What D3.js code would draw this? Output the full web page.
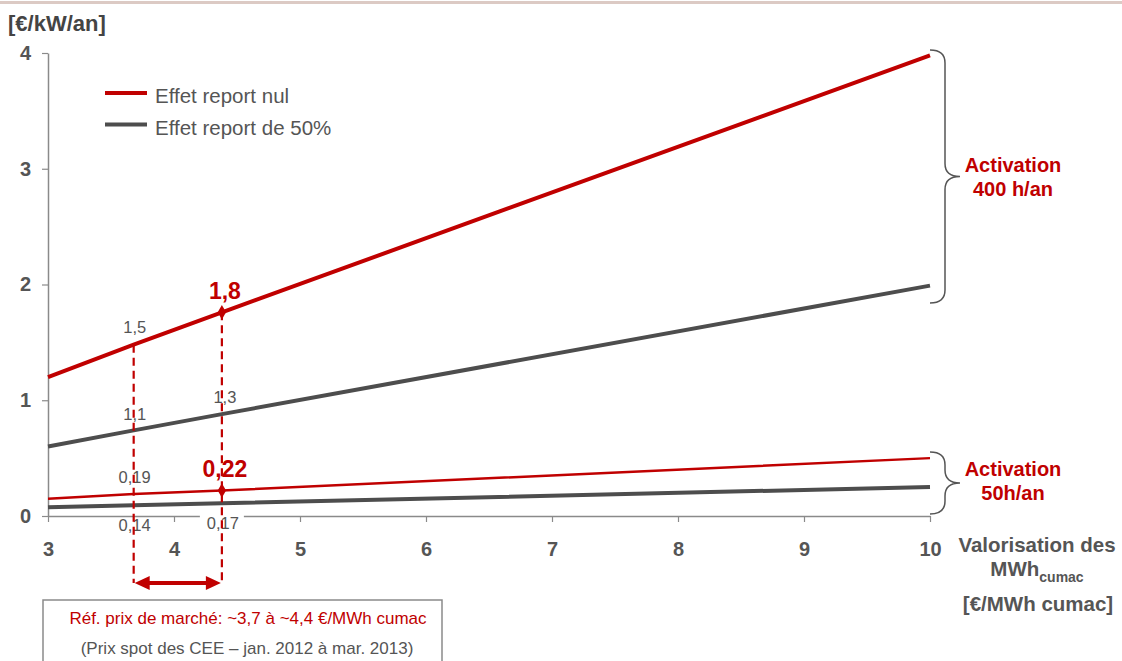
<!DOCTYPE html>
<html>
<head>
<meta charset="utf-8">
<script src="https://cdn.jsdelivr.net/npm/d3@7"></script>
<style>
  html, body { margin: 0; padding: 0; background: #fff; }
  svg { display: block; font-family: "Liberation Sans", Arial, sans-serif; }
</style>
</head>
<body>
<svg id="chart" width="1122" height="661"></svg>
<script>
// Valorisation (€/MWh cumac) at which each curve is evaluated
const xPoints = [3, 3.68, 4.38, 10];

// Revenue in €/kW/an
const red400 = [1.2, 1.48, 1.76, 3.98];    // Activation 400 h/an, effet report nul
const grey400 = [0.6, 0.74, 0.88, 1.99];   // Activation 400 h/an, effet report de 50%
const red50 = [0.15, 0.19, 0.22, 0.5];     // Activation 50h/an, effet report nul
const grey50 = [0.075, 0.093, 0.11, 0.25]; // Activation 50h/an, effet report de 50%

const xTicks = [3, 4, 5, 6, 7, 8, 9, 10];
const yTicks = [0, 1, 2, 3, 4];

// Secondary annotations on the grey curves
const greyNotes400 = ["1,1", "1,3"];
const greyNotes50 = ["0,14", "0,17"];

const legendLabels = ["Effet report nul", "Effet report de 50%"];

const RED = "#c00000";
const GREY = "#4d4d4d";
const TEXT = "#555555";
const AXIS = "#8a8a8a";
const FONT = "Liberation Sans, Arial, sans-serif";

const svg = d3.select("#chart");
const x = d3.scaleLinear().domain([3, 10]).range([48, 930]);
const y = d3.scaleLinear().domain([0, 4]).range([516, 53]);
const frFmt1 = v => d3.format(".1f")(v).replace(".", ",");
const frFmt2 = v => d3.format(".2f")(v).replace(".", ",");

// top rule
svg.append("rect").attr("x", 0).attr("y", 1).attr("width", 1122).attr("height", 3).attr("fill", "#dccac4");

// unit label
svg.append("text").attr("x", 8).attr("y", 31).attr("font-size", 22).attr("font-weight", "bold")
  .attr("fill", "#444").text("[€/kW/an]");

// axes
const yAxis = svg.append("g").attr("transform", `translate(${x(3)},0)`)
  .call(d3.axisLeft(y).tickValues(yTicks).tickSize(6).tickSizeOuter(0).tickPadding(11).tickFormat(d3.format("d")));
yAxis.select(".domain").attr("stroke", AXIS).attr("stroke-width", 1.5);
yAxis.selectAll(".tick line").attr("stroke", AXIS).attr("stroke-width", 1.2);
yAxis.selectAll(".tick text").attr("font-size", 20).attr("font-weight", "bold").attr("fill", TEXT)
  .attr("font-family", FONT);

const xAxis = svg.append("g").attr("transform", `translate(0,${y(0)})`)
  .call(d3.axisBottom(x).tickValues(xTicks).tickSize(6).tickSizeOuter(0).tickPadding(20).tickFormat(d3.format("d")));
xAxis.select(".domain").attr("stroke", AXIS).attr("stroke-width", 1.5);
xAxis.selectAll(".tick line").attr("stroke", AXIS).attr("stroke-width", 1.2);
xAxis.selectAll(".tick text").attr("font-size", 20).attr("font-weight", "bold").attr("fill", TEXT)
  .attr("font-family", FONT);

// white backing behind the 0,17 note, interrupting the axis line
const backing = svg.append("g");
backing.append("rect").attr("x", x(xPoints[2]) - 22).attr("y", y(0) - 2)
  .attr("width", 44).attr("height", 16).attr("fill", "#fff");

// grey annotation labels (drawn under the curves and dashed guides)
const notes = svg.append("g").attr("font-size", 16.5).attr("fill", TEXT).attr("text-anchor", "middle");
notes.append("text").attr("x", x(xPoints[1]) + 1).attr("y", y(red400[1]) - 12).text(frFmt1(red400[1]));
notes.append("text").attr("x", x(xPoints[1]) + 1).attr("y", y(grey400[1]) - 10).text(greyNotes400[0]);
notes.append("text").attr("x", x(xPoints[2]) + 3).attr("y", y(grey400[2]) - 11).text(greyNotes400[1]);
notes.append("text").attr("x", x(xPoints[1]) + 1).attr("y", y(red50[1]) - 11).text(frFmt2(red50[1]));
notes.append("text").attr("x", x(xPoints[1]) + 1).attr("y", y(0) + 15).text(greyNotes50[0]);
notes.append("text").attr("x", x(xPoints[2]) + 1).attr("y", y(0) + 13).text(greyNotes50[1]);

// curves
const line = d3.line().x(d => x(d[0])).y(d => y(d[1]));
const series = [
  { v: red400, c: RED, w: 4 },
  { v: grey400, c: GREY, w: 4 },
  { v: red50, c: RED, w: 2.5 },
  { v: grey50, c: GREY, w: 4 }
];
series.forEach(s => {
  svg.append("path").datum(xPoints.map((xv, i) => [xv, s.v[i]]))
    .attr("d", line).attr("fill", "none").attr("stroke", s.c).attr("stroke-width", s.w)
    .attr("stroke-linejoin", "round");
});

// market price range guides
const arrowY = 583;
const guides = svg.append("g").attr("stroke", RED).attr("stroke-width", 2.2).attr("stroke-dasharray", "8,5");
guides.append("line").attr("x1", x(xPoints[1])).attr("x2", x(xPoints[1]))
  .attr("y1", y(red400[1])).attr("y2", arrowY);
guides.append("line").attr("x1", x(xPoints[2])).attr("x2", x(xPoints[2]))
  .attr("y1", y(red400[2])).attr("y2", arrowY);

// double-headed arrow
const ax1 = x(xPoints[1]) + 1, ax2 = x(xPoints[2]) - 1;
svg.append("line").attr("x1", ax1 + 12).attr("x2", ax2 - 12).attr("y1", arrowY).attr("y2", arrowY)
  .attr("stroke", RED).attr("stroke-width", 4);
svg.append("path").attr("fill", RED)
  .attr("d", `M${ax1},${arrowY} L${ax1 + 15},${arrowY - 7} L${ax1 + 15},${arrowY + 7} Z`);
svg.append("path").attr("fill", RED)
  .attr("d", `M${ax2},${arrowY} L${ax2 - 15},${arrowY - 7} L${ax2 - 15},${arrowY + 7} Z`);

// diamond markers and highlighted values
const diamond = d3.symbol().type(d3.symbolDiamond).size(60);
[red400, red50].forEach(v => {
  svg.append("path").attr("d", diamond)
    .attr("transform", `translate(${x(xPoints[2])},${y(v[2])})`).attr("fill", RED);
});
svg.append("text").attr("x", x(xPoints[2]) + 3).attr("y", y(red400[2]) - 13)
  .attr("text-anchor", "middle").attr("font-size", 23).attr("font-weight", "bold").attr("fill", RED)
  .text(frFmt1(red400[2]));
svg.append("text").attr("x", x(xPoints[2]) + 3).attr("y", y(red50[2]) - 13.5)
  .attr("text-anchor", "middle").attr("font-size", 23).attr("font-weight", "bold").attr("fill", RED)
  .text(frFmt2(red50[2]));

// legend
const legend = svg.append("g");
legendLabels.forEach((t, i) => {
  const ly = 93 + i * 31.5;
  legend.append("line").attr("x1", 105).attr("x2", 147).attr("y1", ly).attr("y2", ly)
    .attr("stroke", i === 0 ? RED : GREY).attr("stroke-width", 4);
  legend.append("text").attr("x", 155).attr("y", ly + 10).attr("font-size", 20.5).attr("fill", TEXT).text(t);
});

// curly braces grouping the activation scenarios
function brace(top, bottom, xl, xr) {
  const mid = (top + bottom) / 2, xm = xl + 15, r = 13;
  return `M${xl},${top} Q${xm},${top} ${xm},${top + r} L${xm},${mid - r} Q${xm},${mid} ${xr},${mid}` +
         ` Q${xm},${mid} ${xm},${mid + r} L${xm},${bottom - r} Q${xm},${bottom} ${xl},${bottom}`;
}
svg.append("path").attr("d", brace(50, 303, 930, 960)).attr("fill", "none").attr("stroke", TEXT).attr("stroke-width", 1.5);
svg.append("path").attr("d", brace(452, 514, 930, 960)).attr("fill", "none").attr("stroke", TEXT).attr("stroke-width", 1.5);

const act = svg.append("g").attr("font-size", 20).attr("font-weight", "bold").attr("fill", RED).attr("text-anchor", "middle");
act.append("text").attr("x", 1013).attr("y", 172).text("Activation");
act.append("text").attr("x", 1013).attr("y", 196).text("400 h/an");
act.append("text").attr("x", 1013).attr("y", 476).text("Activation");
act.append("text").attr("x", 1013).attr("y", 500).text("50h/an");

// x axis title
const xt = svg.append("g").attr("font-size", 20.5).attr("font-weight", "bold").attr("fill", TEXT).attr("text-anchor", "middle");
xt.append("text").attr("x", 1037).attr("y", 552).text("Valorisation des");
const mwh = xt.append("text").attr("x", 1037).attr("y", 576);
mwh.append("tspan").text("MWh");
mwh.append("tspan").attr("font-size", 14).attr("dy", 6).text("cumac");
xt.append("text").attr("x", 1038).attr("y", 611).text("[€/MWh cumac]");

// market reference box
svg.append("rect").attr("x", 43).attr("y", 600).attr("width", 399).attr("height", 80)
  .attr("fill", "none").attr("stroke", AXIS).attr("stroke-width", 1.5);
svg.append("text").attr("x", 248).attr("y", 624).attr("text-anchor", "middle").attr("font-size", 17)
  .attr("fill", RED).text("Réf. prix de marché: ~3,7 à ~4,4 €/MWh cumac");
svg.append("text").attr("x", 247).attr("y", 654).attr("text-anchor", "middle").attr("font-size", 17)
  .attr("fill", TEXT).text("(Prix spot des CEE – jan. 2012 à mar. 2013)");
</script>
</body>
</html>
